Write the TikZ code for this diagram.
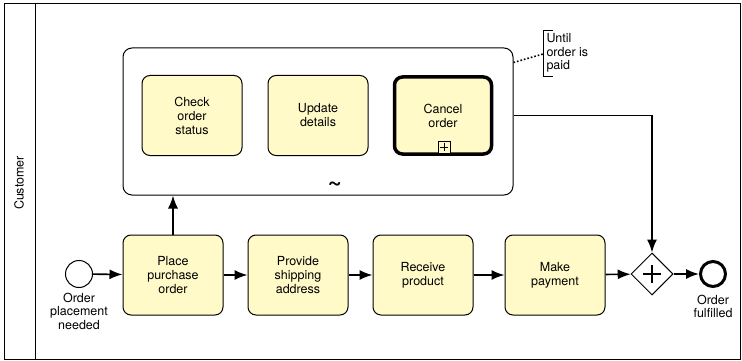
\documentclass[tikz,border=0pt]{standalone}
\usepackage{fontspec}
\setmainfont{TeX Gyre Heros}
\usetikzlibrary{positioning, arrows.meta, shapes.geometric}
\definecolor{taskfill}{RGB}{255,250,200}

\begin{document}
\begin{tikzpicture}[x=1pt, y=-1pt, line width=1pt,
  task/.style={rectangle, rounded corners=8pt, draw=black, fill=taskfill,
               minimum width=100pt, minimum height=80pt, align=center,
               font=\fontsize{12.5}{14}\selectfont},
  flow/.style={-{Latex[length=13pt,width=10pt]}, line width=1.6pt},
  lbl/.style={align=center, font=\fontsize{12.5}{13.5}\selectfont}
]
\useasboundingbox (0,0) rectangle (742,361);

% Pool and lane
\draw (4,4) rectangle (740,359);
\draw (35,4) -- (35,359);
\node[rotate=90, font=\fontsize{12.5}{14}\selectfont] (lane) at (19,183) {Customer};

% Subprocess
\node[rectangle, rounded corners=9pt, draw=black, minimum width=390pt,
      minimum height=147pt] (sub) at (318,121.5) {};
\node[font=\bfseries\fontsize{24}{24}\selectfont] (loop) at (335,186) {\char`\~};

\node[task] (check) at (192,115.5) {Check\\order\\status};
\node[task] (update) at (318,115.5) {Update\\details};
\node[task, line width=3.5pt, minimum width=97pt, minimum height=77pt] (cancel) at (443,115.5) {Cancel\\order};
\node[rectangle, draw=black, line width=0.8pt, minimum width=12pt, minimum height=12pt,
      inner sep=0pt, fill=taskfill] (collapse) at (444,147) {};
\draw[line width=0.8pt] (collapse.north) ++(0,2) -- ++(0,8);
\draw[line width=0.8pt] (collapse.west) ++(2,0) -- ++(8,0);

% Annotation
\node[lbl, anchor=north west, align=left, inner sep=1pt] (note) at (545,32) {Until\\order is\\paid};
\draw (553,31) -- (543,31) -- (543,77) -- (553,77);
\coordinate (notepin) at (543,54);
\draw[dotted, line width=1.6pt] (sub.north east) ++(0,15) coordinate (subpin) -- (notepin);

% Start event
\node[circle, draw=black, minimum size=27pt, inner sep=0pt] (start) at (79,274) {};
\node[lbl, below=1pt of start] (startlbl) {Order\\placement\\needed};

% Tasks
\node[task] (place) at (173,275) {Place\\purchase\\order};
\node[task] (ship) at (298,275) {Provide\\shipping\\address};
\node[task] (receive) at (423,275) {Receive\\product};
\node[task] (pay) at (555,275) {Make\\payment};

% Gateway
\node[diamond, draw=black, minimum size=42pt, inner sep=0pt, fill=white] (join) at (652,274) {};
\draw[line width=2.8pt] (join.center) ++(-9,0) -- ++(18,0);
\draw[line width=2.8pt] (join.center) ++(0,-9) -- ++(0,18);

% End event
\node[circle, draw=black, line width=3pt, minimum size=25pt, inner sep=0pt] (end) at (713,274) {};
\node[lbl, below=3pt of end] (endlbl) {Order\\fulfilled};

% Sequence flows
\draw[flow] (start) -- (place);
\draw[flow] (place) -- (ship);
\draw[flow] (ship) -- (receive);
\draw[flow] (receive) -- (pay);
\draw[flow] (pay) -- (join);
\draw[flow] (join) -- (end);
\draw[flow] (place.north) -- (place.north |- sub.south);
\draw[flow] (sub.east |- cancel.east) -| (join.north);

\end{tikzpicture}
\end{document}
